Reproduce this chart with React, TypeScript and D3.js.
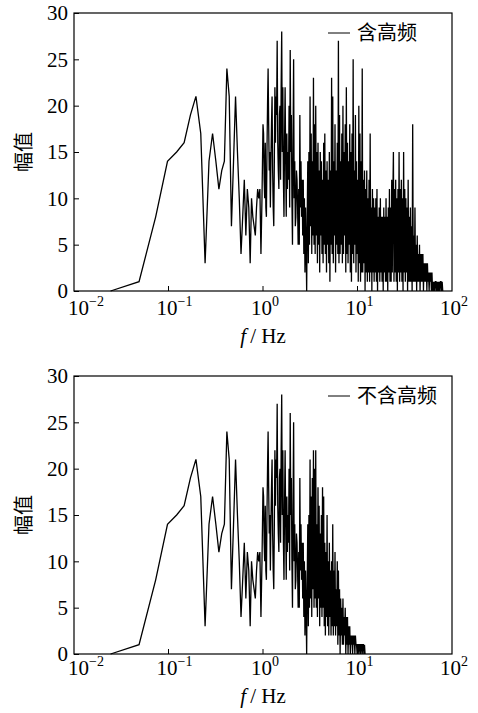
import { useEffect, useRef } from 'react'
import * as d3 from 'd3'

// FFT bins below 1 Hz (spacing 1/41 Hz)
const DF = 1 / 41
const lowAmp = [
  0, 1, 8, 14, 15, 16, 19, 21, 17, 3,
  14, 17, 14, 11, 13, 14, 24, 21, 7, 14,
  21, 15, 10, 4, 8, 12, 6, 11, 9, 3,
  10, 8, 7, 6, 9, 11, 10, 11, 4, 10,
]

// from 1 Hz upward the spectrum is sampled on a log grid (step in decades)
const LOG_STEP = 0.006

// 1 Hz .. 3 Hz, identical in both panels
const midAmp = [
  18, 17, 12, 10, 16, 9, 8, 15, 20, 24,
  18, 13, 15, 9, 14, 18, 21, 13, 9, 7,
  14, 22, 16, 21, 19, 27, 16, 13, 11, 19,
  20, 12, 22, 28, 15, 22, 12, 8, 16, 22,
  14, 8, 17, 11, 15, 12, 20, 9, 26, 15,
  19, 10, 5, 16, 25, 10, 14, 7, 8, 13,
  12, 9, 5, 11, 5, 19, 9, 14, 8, 12,
  6, 12, 4, 10, 2, 9, 5, 0, 8, 14,
]

// 3 Hz .. 80 Hz, with high frequencies
const withHighAmp = [
  3, 15, 5, 21, 7, 17, 4, 14, 6, 23,
  5, 18, 4, 20, 6, 15, 3, 16, 5, 13,
  2, 15, 6, 14, 4, 12, 3, 16, 5, 17,
  4, 13, 2, 14, 5, 12, 3, 15, 1, 13,
  5, 23, 4, 21, 3, 14, 6, 18, 2, 13,
  5, 16, 4, 27, 3, 19, 4, 14, 5, 17,
  3, 20, 4, 15, 6, 18, 2, 22, 4, 16,
  3, 14, 5, 18, 2, 15, 1, 17, 4, 25,
  3, 13, 5, 19, 2, 14, 4, 12, 1, 20,
  3, 17, 1, 14, 2, 24, 2, 12, 3, 13,
  0, 11, 2, 13, 1, 10, 2, 12, 1, 17,
  2, 9, 0, 11, 2, 10, 1, 9, 2, 10,
  1, 11, 0, 8, 2, 9, 1, 10, 2, 8,
  1, 8, 0, 9, 2, 8, 1, 10, 1, 8,
  0, 9, 2, 11, 1, 9, 1, 12, 2, 10,
  15, 1, 11, 2, 12, 1, 10, 0, 11, 2,
  15, 1, 11, 2, 12, 1, 10, 0, 15, 2,
  11, 1, 10, 2, 9, 0, 12, 1, 8, 1,
  9, 1, 7, 0, 18, 1, 6, 1, 9, 1,
  5, 0, 6, 1, 4, 1, 5, 0, 4, 1,
  4, 1, 4, 0, 3, 1, 3, 1, 3, 0,
  3, 1, 2, 0, 2, 1, 2, 0, 2, 0,
  1, 0, 1, 0, 1, 1, 0, 1, 0, 1,
  0, 1, 0, 1, 1, 0, 1, 0,
]

// 3 Hz .. 12 Hz, high frequencies removed
const withoutHighAmp = [
  3, 15, 5, 21, 6, 17, 4, 19, 7, 22,
  5, 20, 6, 22, 5, 14, 4, 18, 6, 16,
  3, 13, 5, 15, 4, 18, 5, 17, 3, 12,
  2, 11, 4, 15, 3, 10, 2, 12, 4, 9,
  2, 10, 3, 14, 2, 9, 3, 11, 2, 7,
  3, 10, 1, 9, 2, 7, 0, 6, 2, 5,
  1, 6, 1, 4, 2, 5, 0, 4, 1, 4,
  0, 3, 1, 3, 0, 2, 1, 2, 0, 2,
  1, 2, 0, 2, 1, 1, 0, 1, 1, 0,
  1, 1, 0, 1, 1, 0, 1, 1, 0, 1, 0,
]

const yTicks = [0, 5, 10, 15, 20, 25, 30]
const xDecades = [-2, -1, 0, 1, 2]

const panels = [
  { legend: '含高频', tail: withHighAmp, top: 13, bottom: 291, tickBase: 315, labelBase: 343 },
  { legend: '不含高频', tail: withoutHighAmp, top: 376, bottom: 654, tickBase: 675, labelBase: 703 },
]

const W = 478
const H = 713
const LEFT = 74
const RIGHT = 452
const SERIF = "'Liberation Serif', 'DejaVu Serif', Times, serif"
const CJK = "'Noto Sans CJK SC', sans-serif"

function buildSeries(tail: number[]): [number, number][] {
  const pts: [number, number][] = lowAmp.map((v, k) => [(k + 1) * DF, v])
  midAmp.forEach((v, i) => pts.push([Math.pow(10, i * LOG_STEP), v]))
  tail.forEach((v, j) => pts.push([Math.pow(10, (midAmp.length + j) * LOG_STEP), v]))
  return pts
}

const App = () => {
  const ref = useRef<SVGSVGElement>(null)

  useEffect(() => {
    const svg = d3.select(ref.current)
    svg.selectAll('*').remove()

    const x = d3.scaleLog().domain([0.01, 100]).range([LEFT, RIGHT])

    panels.forEach(p => {
      const y = d3.scaleLinear().domain([0, 30]).range([p.bottom, p.top])
      const g = svg.append('g')

      const line = d3.line<[number, number]>()
        .x(d => x(d[0]))
        .y(d => y(d[1]))

      g.append('path')
        .datum(buildSeries(p.tail))
        .attr('d', line)
        .attr('fill', 'none')
        .attr('stroke', '#000')
        .attr('stroke-width', 1.3)
        .attr('stroke-linejoin', 'miter')

      // frame
      g.append('rect')
        .attr('x', LEFT)
        .attr('y', p.top)
        .attr('width', RIGHT - LEFT)
        .attr('height', p.bottom - p.top)
        .attr('fill', 'none')
        .attr('stroke', '#000')
        .attr('stroke-width', 1.2)

      // y axis, ticks pointing inward
      const ya = g.append('g')
        .attr('transform', `translate(${LEFT},0)`)
        .call(d3.axisLeft(y).tickValues(yTicks).tickSize(-5).tickPadding(6))
      ya.attr('font-family', null).attr('font-size', null)
      ya.select('.domain').remove()
      ya.selectAll('text')
        .style('font-family', SERIF)
        .style('font-size', '21px')
        .attr('fill', '#000')

      // x ticks (inward) and labels 10^n; the "10" sits just left of the tick
      xDecades.slice(1, -1).forEach(d => {
        g.append('line')
          .attr('x1', x(Math.pow(10, d)))
          .attr('x2', x(Math.pow(10, d)))
          .attr('y1', p.bottom)
          .attr('y2', p.bottom - 5)
          .attr('stroke', '#000')
          .attr('stroke-width', 1)
      })
      xDecades.forEach(d => {
        const t = g.append('text')
          .attr('x', Math.max(x(Math.pow(10, d)) - 12, 68))
          .attr('y', p.tickBase)
          .attr('text-anchor', 'start')
          .style('font-family', SERIF)
          .style('font-size', '21px')
        t.append('tspan').text('10')
        t.append('tspan')
          .attr('dy', -9)
          .style('font-size', '14px')
          .text(String(d).replace('-', '\u2212'))
      })

      // axis titles
      const xl = g.append('text')
        .attr('x', (LEFT + RIGHT) / 2)
        .attr('y', p.labelBase)
        .attr('text-anchor', 'middle')
        .style('font-family', SERIF)
        .style('font-size', '21px')
      xl.append('tspan').style('font-style', 'italic').text('f')
      xl.append('tspan').text('\u2009/ Hz')

      g.append('text')
        .attr('transform', `translate(31,${(p.top + p.bottom) / 2}) rotate(-90)`)
        .attr('text-anchor', 'middle')
        .style('font-family', CJK)
        .style('font-size', '20px')
        .text('幅值')

      // legend
      g.append('line')
        .attr('x1', 328)
        .attr('x2', 350)
        .attr('y1', p.top + 20)
        .attr('y2', p.top + 20)
        .attr('stroke', '#000')
        .attr('stroke-width', 1)
      g.append('text')
        .attr('x', 357)
        .attr('y', p.top + 27)
        .style('font-family', CJK)
        .style('font-size', '20px')
        .text(p.legend)
    })
  }, [])

  return (
    <svg
      ref={ref}
      width={W}
      height={H}
      style={{ position: 'absolute', left: 0, top: 0, background: '#fff' }}
    />
  )
}

export default App
